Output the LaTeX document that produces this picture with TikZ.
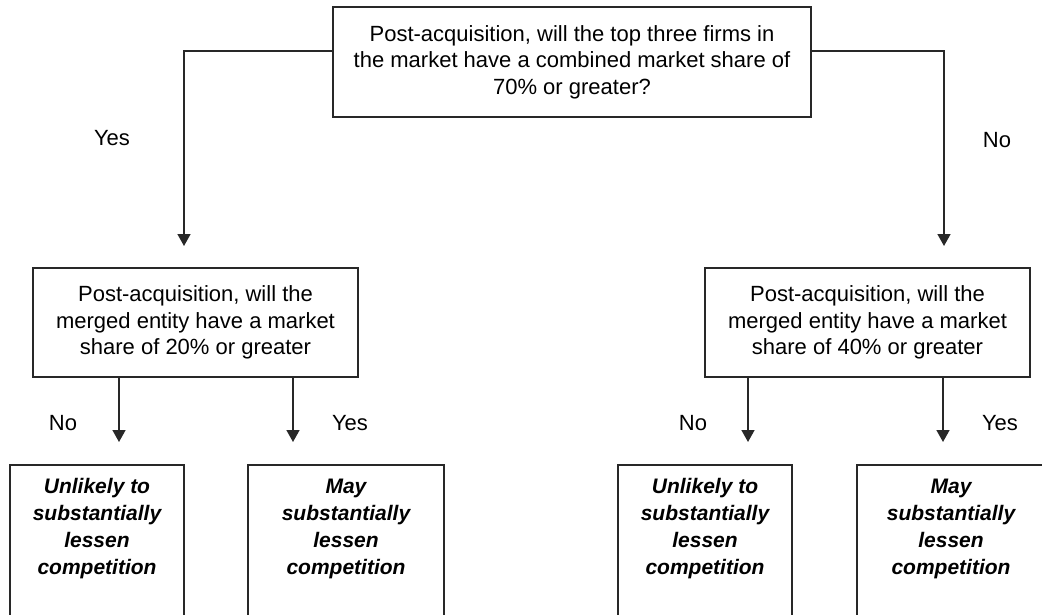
\documentclass[tikz,border=0pt]{standalone}
\usepackage{fontspec}
\setmainfont{Liberation Sans}
\usetikzlibrary{arrows.meta}
\definecolor{lc}{RGB}{40,40,40}
\begin{document}
\begin{tikzpicture}[x=1pt,y=-1pt,
  qbox/.style={draw=lc, line width=1.6pt, align=center, inner sep=0pt,
    font=\fontsize{22}{26.5}\selectfont},
  obox/.style={draw=lc, line width=1.6pt, inner sep=0pt},
  otext/.style={align=center, inner sep=0pt,
    font=\fontsize{21}{27}\selectfont\bfseries\itshape},
  lbl/.style={inner sep=0pt, font=\fontsize{22}{26}\selectfont},
  conn/.style={draw=lc, line width=1.6pt, -{Triangle[width=13pt,length=12pt]}}
]
\useasboundingbox (0,0) rectangle (1042,615);
\clip (0,0) rectangle (1042,615);

% question boxes
\node[qbox, minimum width=478pt, minimum height=110pt] (top) at (572,62)
  {Post-acquisition, will the top three firms in\\the market have a combined market share of\\70\% or greater?};
\node[qbox, minimum width=325pt, minimum height=109pt] (ml) at (195.5,322.5)
  {Post-acquisition, will the\\merged entity have a market\\share of 20\% or greater};
\node[qbox, minimum width=325pt, minimum height=109pt] (mr) at (867.5,322.5)
  {Post-acquisition, will the\\merged entity have a market\\share of 40\% or greater};

% outcome boxes (open at the bottom edge of the picture)
\node[obox, minimum width=174pt, minimum height=160pt] (b1) at (97,545) {};
\node[obox, minimum width=196pt, minimum height=160pt] (b2) at (346,545) {};
\node[obox, minimum width=174pt, minimum height=160pt] (b3) at (705,545) {};
\node[obox, minimum width=188pt, minimum height=160pt] (b4) at (951,545) {};

\node[otext] (t1) at (97,529) {Unlikely to\\substantially\\lessen\\competition};
\node[otext] (t2) at (346,529) {May\\substantially\\lessen\\competition};
\node[otext] (t3) at (705,529) {Unlikely to\\substantially\\lessen\\competition};
\node[otext] (t4) at (951,529) {May\\substantially\\lessen\\competition};

% arrow end points
\coordinate (aL) at (184,246);
\coordinate (aR) at (944,246);
\coordinate (a1) at (119,442);
\coordinate (a2) at (293,442);
\coordinate (a3) at (748,442);
\coordinate (a4) at (943,442);

\draw[conn] ([yshift=11pt]top.west) -| (aL);
\draw[conn] ([yshift=11pt]top.east) -| (aR);
\draw[conn] (ml.south -| a1) -- (a1);
\draw[conn] (ml.south -| a2) -- (a2);
\draw[conn] (mr.south -| a3) -- (a3);
\draw[conn] (mr.south -| a4) -- (a4);

% labels
\node[lbl] (yes0) at (112,138) {Yes};
\node[lbl] (no0) at (997,140) {No};
\node[lbl] (no1) at (63,423) {No};
\node[lbl] (yes1) at (350,423) {Yes};
\node[lbl] (no2) at (693,423) {No};
\node[lbl] (yes2) at (1000,423) {Yes};
\end{tikzpicture}
\end{document}
